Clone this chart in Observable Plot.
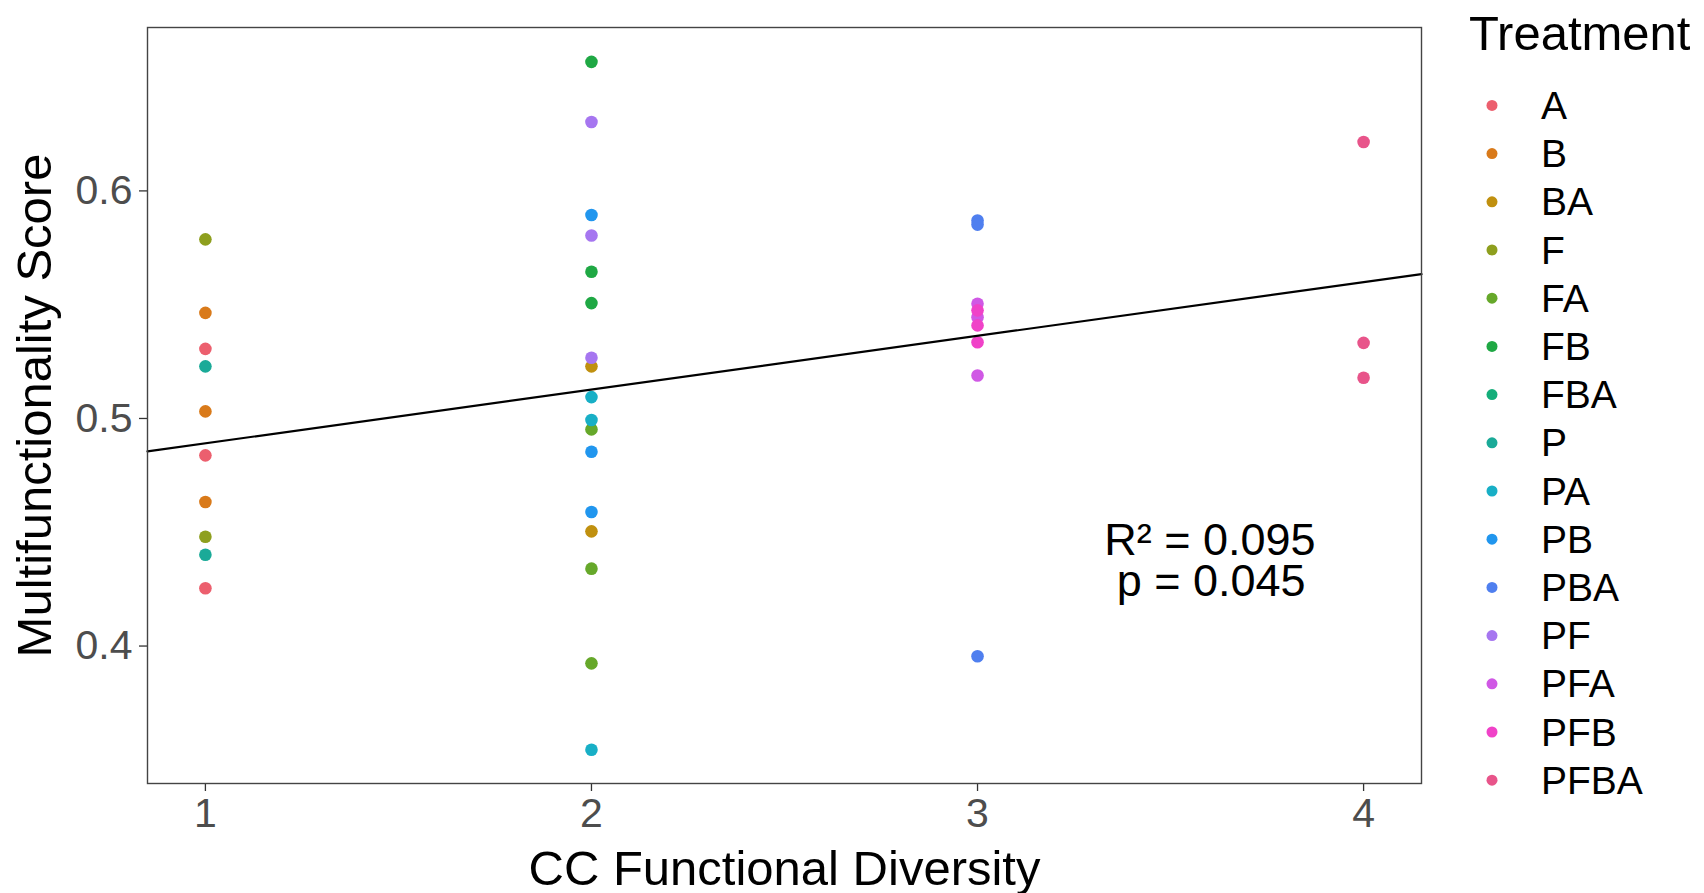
<!DOCTYPE html>
<html>
<head>
<meta charset="utf-8">
<script src="https://cdn.jsdelivr.net/npm/d3@7"></script>
<script src="https://cdn.jsdelivr.net/npm/@observablehq/plot@0.6"></script>
<style>
  html, body { margin: 0; padding: 0; background: white; }
  #wrap { position: relative; width: 1704px; height: 893px; overflow: hidden; font-family: "Liberation Sans", Arial, sans-serif; }
  #legend { position: absolute; left: 1460px; top: 0; }
</style>
</head>
<body>
<div id="wrap"><div id="chart"></div><div id="legend"></div></div>
<script>
// ---- Data ----
const treatments = ["A","B","BA","F","FA","FB","FBA","P","PA","PB","PBA","PF","PFA","PFB","PFBA"];
const treatmentColors = ["#EC5F6E","#D97A1A","#C0900F","#8E9F1E","#66A82A","#1FA844","#14AE7A","#1AAA98","#18AFC6","#2196EE","#4F7FEF","#A676F0","#D058E5","#F042C8","#E8548A"];

const treatment = [
  "A","A","A","B","B","B","F","F","P","P",
  "BA","BA","FA","FA","FA","FB","FB","FB","PA","PA","PA","PB","PB","PB","PF","PF","PF",
  "PBA","PBA","PBA","PFA","PFA","PFA","PFB","PFB","PFB",
  "PFBA","PFBA","PFBA"
];
const diversity = [
  1,1,1,1,1,1,1,1,1,1,
  2,2,2,2,2,2,2,2,2,2,2,2,2,2,2,2,2,
  3,3,3,3,3,3,3,3,3,
  4,4,4
];
const score = [
  0.5306,0.4838,0.4254,0.5464,0.5031,0.4633,0.5787,0.4480,0.5229,0.4401,
  0.5229,0.4504,0.4952,0.4340,0.3924,0.6567,0.5645,0.5507,0.5094,0.4993,0.3544,0.5894,0.4854,0.4589,0.6303,0.5804,0.5267,
  0.5870,0.5852,0.3955,0.5504,0.5445,0.5189,0.5475,0.5409,0.5335,
  0.6215,0.5332,0.5179
];

// Fitted regression
const fitIntercept = 0.4655;
const fitSlope = 0.0236;

const xTicks = [1, 2, 3, 4];
const yTicks = [0.4, 0.5, 0.6];
const xDomain = [0.85, 4.15];
const yDomain = [0.3396, 0.6718];

const statLines = ["R² = 0.095", "p = 0.045"];
const statX = [3.602, 3.605];
const statY = [0.4398, 0.4218];

const xTitle = "CC Functional Diversity";
const yTitle = "Multifunctionality Score";
const legendTitle = "Treatment";

// ---- Build tables ----
const points = score.map((s, i) => ({x: diversity[i], y: s, t: treatment[i]}));
const fitLine = xDomain.map(x => ({x, y: fitIntercept + fitSlope * x}));
const stats = statLines.map((s, i) => ({x: statX[i], y: statY[i], label: s}));

const W = 1704, H = 893;
const plot = Plot.plot({
  width: W,
  height: H,
  marginLeft: 147,
  marginRight: W - 1421,
  marginTop: 27,
  marginBottom: H - 783,
  style: {fontFamily: "'Liberation Sans', Arial, sans-serif", background: "white", overflow: "visible"},
  x: {domain: xDomain},
  y: {domain: yDomain},
  color: {type: "ordinal", domain: treatments, range: treatmentColors},
  marks: [
    Plot.axisX(xTicks, {tickSize: 8, tickPadding: 6, fontSize: 41, fill: "#4D4D4D", stroke: "#333", strokeWidth: 1.3, label: null, tickFormat: d => String(d)}),
    Plot.axisY(yTicks, {tickSize: 8, tickPadding: 7, fontSize: 41, fill: "#4D4D4D", stroke: "#333", strokeWidth: 1.3, label: null, tickFormat: d => d.toFixed(1)}),
    Plot.dot(points, {x: "x", y: "y", fill: "t", r: 6.3}),
    Plot.line(fitLine, {x: "x", y: "y", stroke: "black", strokeWidth: 2.2}),
    Plot.text(stats, {x: "x", y: "y", text: "label", fontSize: 45, lineAnchor: "bottom", textAnchor: "middle", fill: "black"}),
    Plot.frame({stroke: "#444", strokeWidth: 1.4}),
    Plot.text([xTitle], {frameAnchor: "bottom", textAnchor: "middle", lineAnchor: "bottom", dy: 101, fontSize: 49, fill: "black"}),
    Plot.text([yTitle], {frameAnchor: "left", textAnchor: "middle", rotate: -90, lineAnchor: "top", dx: -131, fontSize: 49, fill: "black"})
  ]
});
document.getElementById("chart").appendChild(plot);

// ---- Legend (vertical, ggplot-style) ----
const colorScale = plot.scale("color");
const leg = d3.select("#legend").append("svg")
  .attr("width", W - 1460).attr("height", H)
  .style("font-family", "'Liberation Sans', Arial, sans-serif");
leg.append("text").attr("x", 9).attr("y", 50).attr("font-size", 49).attr("fill", "black").text(legendTitle);
const items = leg.selectAll("g.item").data(treatments).join("g")
  .attr("transform", (d, i) => `translate(0,${105.4 + i * 48.2})`);
items.append("circle").attr("cx", 32).attr("cy", 0).attr("r", 5.5).attr("fill", d => colorScale.apply(d));
items.append("text").attr("x", 81).attr("y", 0).attr("dy", "0.35em").attr("font-size", 39).attr("fill", "black").text(d => d);
</script>
</body>
</html>
